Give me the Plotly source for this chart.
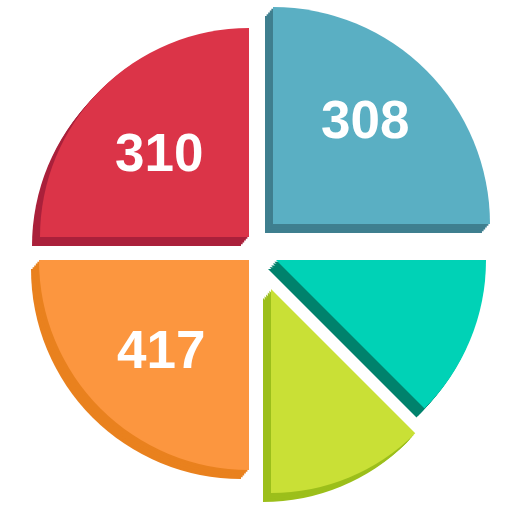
import plotly.graph_objects as go

# ---- data ----
slice_names = ["A", "B", "C", "D", "E"]            # clockwise from 12 o'clock
slice_angles = [90, 45, 45, 90, 90]                  # angular size of each slice (deg)
slice_labels = ["308", "", "", "417", "310"]         # text shown on slices
face_colors = ["#5AAFC3", "#00D2B6", "#C9E036", "#FC963F", "#DB3448"]
side_colors = ["#3F7F8F", "#00826C", "#9CBF1B", "#E9811E", "#AA203B"]

# ---- layout geometry (pixels in a 512x512 canvas) ----
W = H = 512
corners = [(273, 224), (276, 260), (271, 289), (249, 260), (249, 237)]
radii = [217, 210, 204, 210, 209]
extrude = (-8, 9)
steps = 5
label_pos = [(365, 119), None, None, (161, 349), (159, 152)]


def dom(cx, cy, r):
    return dict(x=[(cx - r) / W, (cx + r) / W], y=[1 - (cy + r) / H, 1 - (cy - r) / H])


fig = go.Figure()
start = 0
starts = []
for a in slice_angles:
    starts.append(start)
    start += a

for i, name in enumerate(slice_names):
    cx, cy = corners[i]
    r = radii[i]
    a = slice_angles[i]
    # extrusion (side) layers
    for k in range(steps, 0, -1):
        dx = extrude[0] * k / steps
        dy = extrude[1] * k / steps
        fig.add_trace(go.Pie(
            values=[a, 360 - a], sort=False, direction="clockwise", rotation=starts[i],
            marker=dict(colors=[side_colors[i], "rgba(0,0,0,0)"], line=dict(width=0)),
            textinfo="none", hoverinfo="skip", showlegend=False,
            domain=dom(cx + dx, cy + dy, r)))
for i, name in enumerate(slice_names):
    cx, cy = corners[i]
    r = radii[i]
    a = slice_angles[i]
    fig.add_trace(go.Pie(
        values=[a, 360 - a], sort=False, direction="clockwise", rotation=starts[i],
        marker=dict(colors=[face_colors[i], "rgba(0,0,0,0)"], line=dict(width=0)),
        textinfo="none", hoverinfo="skip", showlegend=False, name=name,
        domain=dom(cx, cy, r)))

for i, lab in enumerate(slice_labels):
    if lab and label_pos[i]:
        px, py = label_pos[i]
        fig.add_annotation(x=px / W, y=1 - py / H, xref="paper", yref="paper",
                           text="<b>%s</b>" % lab, showarrow=False,
                           xanchor="center", yanchor="middle",
                           font=dict(family="Liberation Sans, Arial, sans-serif",
                                     size=53, color="white"))

fig.update_layout(width=W, height=H, margin=dict(l=0, r=0, t=0, b=0),
                  paper_bgcolor="white", plot_bgcolor="white", showlegend=False)
fig.write_html("out.html")
